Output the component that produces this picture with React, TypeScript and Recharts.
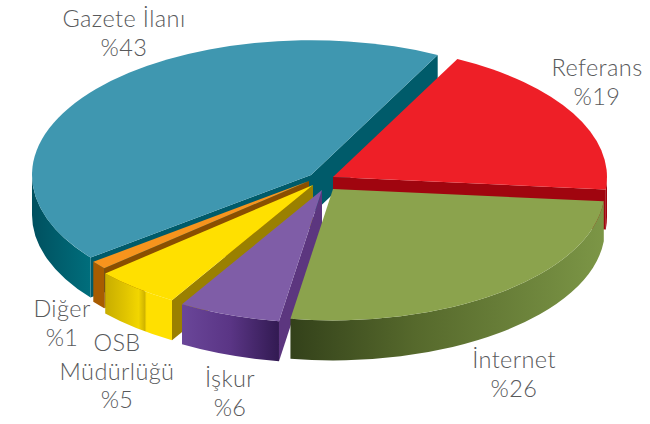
import { PieChart, Pie } from "recharts";

const categories = ["Referans", "Gazete İlanı", "Diğer", "OSB Müdürlüğü", "İşkur", "İnternet"];
const shares = [19, 43, 1, 5, 6, 26];

const chartData = categories.map((name, i) => ({ name, value: shares[i] }));

const DEPTH = 40;
const FLATTEN = 0.483;

// how each slice is pulled out of the pie, and its colours
const SLICES: Record<string, any> = {
  "Gazete İlanı": { dx: -9, dy: -5, grow: 2, top: "#3F97B0", cut: "#005B6A", wall: "url(#wallBlue)" },
  Referans: { dx: 13, dy: -3, grow: -3, top: "#EE1F27", cut: "#A0050F", wall: "#A0050F" },
  İnternet: { dx: 13, dy: 9, grow: -5, top: "#8BA34D", cut: "#5E7532", wall: "url(#wallGreen)" },
  İşkur: { dx: 2, dy: 10, grow: -2, top: "#7F5DA7", cut: "#5C367F", wall: "url(#wallPurple)" },
  "OSB Müdürlüğü": { dx: -7, dy: 5, grow: 0, top: "#FFE000", cut: "#9A8000", wall: "url(#wallYellow)" },
  Diğer: { dx: -11, dy: 1, grow: -4, top: "#F7941D", cut: "#8A4F00", wall: "#A85C00" },
};

const LABELS: Record<string, any> = {
  "Gazete İlanı": { x: 124, y: 27, lines: ["Gazete İlanı"] },
  Referans: { x: 597, y: 76, lines: ["Referans"] },
  İnternet: { x: 514, y: 368, lines: ["İnternet"] },
  İşkur: { x: 230, y: 387, lines: ["İşkur"] },
  "OSB Müdürlüğü": { x: 117, y: 351, lines: ["OSB", "Müdürlüğü"] },
  Diğer: { x: 62, y: 317, lines: ["Diğer"] },
};

const rad = (a: number) => (a * Math.PI) / 180;

function geometry(props: any) {
  const s = SLICES[props.name];
  const rx = props.outerRadius + s.grow;
  const ry = rx * FLATTEN;
  const cx = props.cx + s.dx;
  const cy = props.cy + s.dy;
  const start = ((props.startAngle % 360) + 360) % 360;
  const end = start + Math.abs(props.endAngle - props.startAngle);
  const at = (a: number, drop = 0) => [cx + rx * Math.cos(rad(a)), cy - ry * Math.sin(rad(a)) + drop];
  return { s, rx, ry, cx, cy, start, end, at };
}

function Top(props: any) {
  const { s, rx, ry, cx, cy, start, end, at } = geometry(props);
  const [x1, y1] = at(start);
  const [x2, y2] = at(end);
  const d = `M${cx},${cy} L${x1},${y1} A${rx},${ry} 0 ${end - start > 180 ? 1 : 0} 0 ${x2},${y2} Z`;
  return <path d={d} fill={s.top} />;
}

function Walls(props: any) {
  const { s, rx, ry, cx, cy, start, end, at } = geometry(props);
  const parts: any[] = [];
  const quad = (a: number) => {
    const [x, y] = at(a);
    return `M${cx},${cy} L${x},${y} L${x},${y + DEPTH} L${cx},${cy + DEPTH} Z`;
  };
  // a cut face only shows when it points toward the viewer
  if (Math.sin(rad(start - 90)) < 0) parts.push(<path key="s" d={quad(start)} fill={s.cut} />);
  if (Math.sin(rad(end + 90)) < 0) parts.push(<path key="e" d={quad(end)} fill={s.cut} />);
  const from = Math.max(start, 180);
  const to = Math.min(end, 360);
  if (to > from) {
    const [x1, y1] = at(from);
    const [x2, y2] = at(to);
    const d = `M${x1},${y1} A${rx},${ry} 0 0 0 ${x2},${y2} L${x2},${y2 + DEPTH} A${rx},${ry} 0 0 1 ${x1},${y1 + DEPTH} Z`;
    parts.push(<path key="o" d={d} fill={s.wall} />);
  }
  return <g>{parts}</g>;
}

function BackWall(props: any) {
  return props.name === "Gazete İlanı" ? <Walls {...props} /> : <g />;
}

function FrontWalls(props: any) {
  return props.name === "Gazete İlanı" ? <g /> : <Walls {...props} />;
}

function renderLabel(props: any) {
  const l = LABELS[props.name];
  return (
    <text textAnchor="middle" fontFamily="Lato" fontWeight={300} fontSize={23.5} letterSpacing={0.4} fill="#58595B">
      {[...l.lines, `%${props.value}`].map((line: string, i: number) => (
        <tspan key={i} x={l.x} y={l.y + i * 28.5}>
          {line}
        </tspan>
      ))}
    </text>
  );
}

const pieProps = {
  data: chartData,
  dataKey: "value",
  nameKey: "name",
  cx: 320,
  cy: 180,
  outerRadius: 277,
  startAngle: 354.6,
  endAngle: 714.6,
  stroke: "none",
  isAnimationActive: false,
};

export default function App() {
  return (
    <div style={{ position: "absolute", left: 0, top: 0, width: 650, height: 424, background: "#fff" }}>
      <PieChart width={650} height={424} margin={{ top: 0, right: 0, bottom: 0, left: 0 }}>
        <defs>
          <linearGradient id="wallBlue" x1="0" y1="0" x2="1" y2="0">
            <stop offset="0" stopColor="#00505F" />
            <stop offset="1" stopColor="#006E7C" />
          </linearGradient>
          <linearGradient id="wallGreen" x1="0" y1="0" x2="1" y2="0">
            <stop offset="0" stopColor="#33411A" />
            <stop offset="0.4" stopColor="#56692C" />
            <stop offset="1" stopColor="#7C9646" />
          </linearGradient>
          <linearGradient id="wallPurple" x1="0" y1="0" x2="1" y2="0">
            <stop offset="0" stopColor="#6A4699" />
            <stop offset="0.5" stopColor="#5A3585" />
            <stop offset="1" stopColor="#321A52" />
          </linearGradient>
          <linearGradient id="wallYellow" x1="0" y1="0" x2="1" y2="0">
            <stop offset="0" stopColor="#C8AD00" />
            <stop offset="0.3" stopColor="#E0C400" />
            <stop offset="0.5" stopColor="#F2D600" />
            <stop offset="0.59" stopColor="#D0B400" />
            <stop offset="0.62" stopColor="#FFE000" />
            <stop offset="1" stopColor="#FFE000" />
          </linearGradient>
        </defs>
        <Pie {...pieProps} shape={BackWall} />
        <Pie {...pieProps} shape={FrontWalls} />
        <Pie {...pieProps} shape={Top} label={renderLabel} labelLine={false} />
      </PieChart>
    </div>
  );
}
